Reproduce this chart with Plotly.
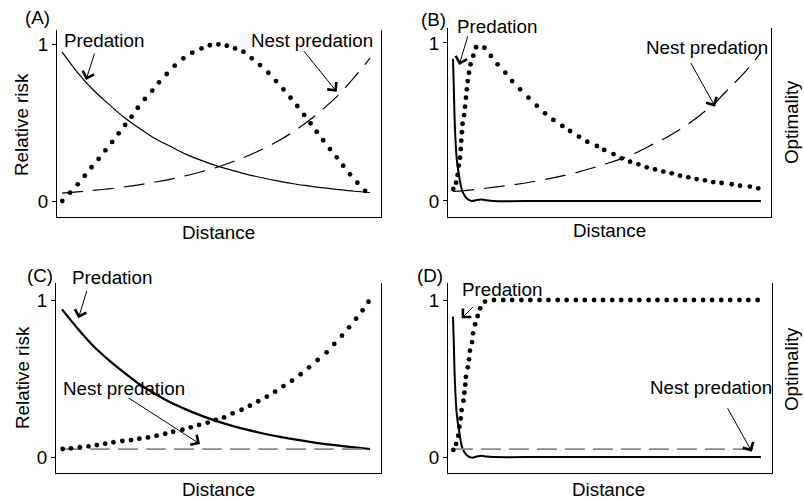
import plotly.graph_objects as go

W, H = 804, 501
FONT = "Liberation Sans, Arial, sans-serif"
FS = 18.8

# ---------------- data ----------------
tick_vals = [0, 1]
tick_text = ["0", "1"]

# Panel A
a_x = [0.0, 0.05, 0.1, 0.15, 0.2, 0.25, 0.3, 0.35, 0.4, 0.45, 0.5,
       0.55, 0.6, 0.65, 0.7, 0.75, 0.8, 0.85, 0.9, 0.95, 1.0]
a_predation = [0.95, 0.82, 0.71, 0.62, 0.535, 0.465, 0.40, 0.35, 0.30, 0.26, 0.225,
               0.197, 0.17, 0.148, 0.128, 0.11, 0.096, 0.083, 0.072, 0.062, 0.054]
a_nest = [0.05, 0.058, 0.067, 0.077, 0.089, 0.103, 0.12, 0.138, 0.16, 0.185, 0.213,
          0.247, 0.285, 0.33, 0.38, 0.44, 0.51, 0.59, 0.68, 0.79, 0.91]
a_opt_x = [0.001, 0.026, 0.051, 0.074, 0.096, 0.119, 0.141, 0.163, 0.184, 0.205, 0.226,
           0.246, 0.269, 0.293, 0.315, 0.340, 0.366, 0.394, 0.423, 0.453, 0.480, 0.508,
           0.535, 0.562, 0.589, 0.616, 0.643, 0.670, 0.695, 0.719, 0.742, 0.764, 0.786,
           0.807, 0.827, 0.848, 0.870, 0.892, 0.913, 0.935, 0.959, 0.984]
a_opt_y = [0.0, 0.053, 0.106, 0.161, 0.215, 0.268, 0.323, 0.376, 0.431, 0.484, 0.537,
           0.594, 0.650, 0.703, 0.756, 0.809, 0.862, 0.909, 0.945, 0.972, 0.992, 0.998,
           0.989, 0.972, 0.951, 0.909, 0.866, 0.817, 0.764, 0.711, 0.658, 0.605, 0.548,
           0.495, 0.441, 0.387, 0.331, 0.278, 0.225, 0.170, 0.117, 0.064]

# Panel B
b_pred_x = [0.0, 0.003, 0.006, 0.012, 0.021, 0.031, 0.044, 0.061, 0.077, 0.093, 0.109,
            0.13, 0.3, 0.5, 0.7, 1.0]
b_pred_y = [0.90, 0.69, 0.48, 0.27, 0.144, 0.059, 0.017, 0.0, 0.006, 0.009, 0.005,
            0.0, 0.0, 0.0, 0.0, 0.0]
b_nest_x = [0.0, 0.1, 0.2, 0.3, 0.4, 0.5, 0.55, 0.6, 0.65, 0.7, 0.75, 0.8, 0.85, 0.9, 0.95, 1.0]
b_nest_y = [0.06, 0.079, 0.104, 0.137, 0.18, 0.237, 0.27, 0.31, 0.36, 0.41, 0.47,
            0.54, 0.62, 0.72, 0.82, 0.94]
b_opt_x = [0.001, 0.010, 0.015, 0.019, 0.023, 0.025, 0.027, 0.029, 0.031, 0.036, 0.039,
           0.042, 0.045, 0.048, 0.052, 0.057, 0.066, 0.075, 0.102, 0.123, 0.145, 0.170,
           0.192, 0.218, 0.245, 0.272, 0.299, 0.326, 0.355, 0.380, 0.409, 0.436, 0.467,
           0.491, 0.521, 0.548, 0.575, 0.602, 0.629, 0.656, 0.683, 0.710, 0.737, 0.764,
           0.791, 0.818, 0.845, 0.872, 0.905, 0.932, 0.964, 0.991]
b_opt_y = [0.076, 0.116, 0.165, 0.224, 0.274, 0.329, 0.382, 0.435, 0.489, 0.544, 0.597,
           0.654, 0.707, 0.759, 0.812, 0.865, 0.920, 0.973, 0.970, 0.918, 0.865, 0.812,
           0.759, 0.707, 0.654, 0.603, 0.555, 0.513, 0.475, 0.443, 0.407, 0.375, 0.348,
           0.323, 0.297, 0.270, 0.249, 0.232, 0.213, 0.200, 0.186, 0.175, 0.160, 0.150,
           0.139, 0.131, 0.120, 0.114, 0.106, 0.097, 0.091, 0.080]

# Panel C
c_x = a_x
c_predation = [0.94, 0.82, 0.71, 0.62, 0.54, 0.465, 0.405, 0.35, 0.305, 0.265, 0.23,
               0.2, 0.174, 0.151, 0.131, 0.114, 0.098, 0.084, 0.072, 0.061, 0.051]
c_nest_x = [0.0, 1.0]
c_nest_y = [0.05, 0.05]
c_opt_x = [0.002, 0.029, 0.058, 0.086, 0.113, 0.140, 0.167, 0.196, 0.224, 0.251, 0.279,
           0.307, 0.335, 0.361, 0.391, 0.418, 0.445, 0.473, 0.499, 0.526, 0.554, 0.583,
           0.610, 0.637, 0.665, 0.692, 0.719, 0.747, 0.775, 0.802, 0.830, 0.859, 0.884,
           0.909, 0.932, 0.955, 0.976, 0.995]
c_opt_y = [0.051, 0.055, 0.062, 0.068, 0.076, 0.085, 0.094, 0.102, 0.108, 0.117, 0.125,
           0.136, 0.148, 0.161, 0.174, 0.189, 0.204, 0.219, 0.236, 0.252, 0.278, 0.301,
           0.327, 0.355, 0.384, 0.416, 0.452, 0.486, 0.527, 0.571, 0.618, 0.667, 0.720,
           0.773, 0.826, 0.881, 0.934, 0.989]

# Panel D
d_pred_x = [0.0, 0.003, 0.006, 0.012, 0.021, 0.031, 0.044, 0.061, 0.077, 0.093, 0.109,
            0.13, 0.3, 0.5, 0.7, 1.0]
d_pred_y = [0.894, 0.70, 0.49, 0.278, 0.151, 0.055, 0.013, -0.004, 0.003, 0.008, 0.003,
            0.0, 0.0, 0.0, 0.0, 0.0]
d_nest_x = [0.0, 1.0]
d_nest_y = [0.05, 0.05]
d_opt_x = [0.001, 0.010, 0.017, 0.021, 0.025, 0.028, 0.034, 0.037, 0.040, 0.042, 0.048,
           0.052, 0.055, 0.062, 0.065, 0.072, 0.080, 0.088, 0.104, 0.133, 0.163, 0.192,
           0.222, 0.251, 0.281, 0.310, 0.340, 0.369, 0.399, 0.428, 0.458, 0.487, 0.517,
           0.546, 0.576, 0.605, 0.635, 0.664, 0.694, 0.723, 0.753, 0.782, 0.812, 0.841,
           0.871, 0.900, 0.930, 0.959, 0.989]
d_opt_y = [0.045, 0.083, 0.136, 0.193, 0.246, 0.299, 0.359, 0.410, 0.461, 0.511, 0.571,
           0.622, 0.677, 0.732, 0.788, 0.845, 0.898, 0.947, 0.99, 1.0, 1.0, 1.0,
           1.0, 1.0, 1.0, 1.0, 1.0, 1.0, 1.0, 1.0, 1.0, 1.0, 1.0,
           1.0, 1.0, 1.0, 1.0, 1.0, 1.0, 1.0, 1.0, 1.0, 1.0, 1.0,
           1.0, 1.0, 1.0, 1.0, 1.0]

# ---------------- layout helpers ----------------
def dom_x(x0, x1):
    return [x0 / W, x1 / W]

def dom_y(top, bottom):
    return [1 - bottom / H, 1 - top / H]

def px(X, Y):
    return X / W, 1 - Y / H

fig = go.Figure()

def add_line(x, y, xa, ya, width, dash="solid", color="black", shape="spline"):
    fig.add_trace(go.Scatter(x=x, y=y, mode="lines", xaxis=xa, yaxis=ya,
                             line=dict(color=color, width=width, dash=dash, shape=shape),
                             hoverinfo="skip", showlegend=False))

def add_dots(x, y, xa, ya):
    fig.add_trace(go.Scatter(x=x, y=y, mode="markers", xaxis=xa, yaxis=ya,
                             marker=dict(color="black", size=4.8, line=dict(width=0)),
                             hoverinfo="skip", showlegend=False))

# Panel A
add_line(a_x, a_predation, "x", "y", 1.2)
add_line(a_x, a_nest, "x", "y", 1.2, dash="21px,10px")
add_dots(a_opt_x, a_opt_y, "x", "y")
# Panel B
add_line(b_pred_x, b_pred_y, "x2", "y2", 2.0)
add_line(b_nest_x, b_nest_y, "x2", "y2", 1.2, dash="21px,10px")
add_dots(b_opt_x, b_opt_y, "x2", "y2")
# Panel C
add_line(c_x, c_predation, "x3", "y3", 2.2)
add_line(c_nest_x, c_nest_y, "x3", "y3", 1.8, dash="20px,8px", color="#8a8a8a", shape="linear")
add_dots(c_opt_x, c_opt_y, "x3", "y3")
# Panel D
add_line(d_pred_x, d_pred_y, "x4", "y4", 2.0)
add_line(d_nest_x, d_nest_y, "x4", "y4", 1.8, dash="20px,8px", color="#8a8a8a", shape="linear")
add_dots(d_opt_x, d_opt_y, "x4", "y4")

panels = [
    # (x-axis name, y-axis name, px left, px right, px top, px bottom, xrange, yrange)
    ("xaxis", "yaxis", 57, 381, 30, 217, [-0.0162, 1.0357], [-0.1019, 1.0892]),
    ("xaxis2", "yaxis2", 448, 771, 28, 217, [-0.0162, 1.0325], [-0.1013, 1.0949]),
    ("xaxis3", "yaxis3", 56, 381, 283, 473, [-0.0195, 1.0357], [-0.1019, 1.1083]),
    ("xaxis4", "yaxis4", 448, 772, 283, 473, [-0.0162, 1.0357], [-0.1019, 1.1083]),
]
layout_axes = {}
for i, (xn, yn, l, r, t, b, xr, yr) in enumerate(panels):
    suffix = "" if i == 0 else str(i + 1)
    layout_axes[xn] = dict(domain=dom_x(l, r), range=xr, anchor="y" + suffix,
                           showline=True, linecolor="black", linewidth=1.3, mirror=False,
                           showgrid=False, zeroline=False, showticklabels=False, ticks="",
                           fixedrange=True)
    layout_axes[yn] = dict(domain=dom_y(t, b), range=yr, anchor="x" + suffix,
                           showline=True, linecolor="black", linewidth=1.3, mirror=True,
                           showgrid=False, zeroline=False, tickvals=tick_vals,
                           ticktext=tick_text, ticks="outside", ticklen=4, tickwidth=1.2,
                           tickcolor="black", tickfont=dict(size=FS, color="black", family=FONT),
                           fixedrange=True)

annotations = []

def text(s, X, Y, angle=0):
    x, y = px(X, Y)
    annotations.append(dict(text=s, x=x, y=y, xref="paper", yref="paper", showarrow=False,
                            xanchor="center", yanchor="middle", textangle=angle,
                            font=dict(size=FS, color="black", family=FONT)))

def arrow(xa, ya, x, y, ax, ay):
    annotations.append(dict(text="", x=x, y=y, xref=xa, yref=ya, ax=ax, ay=ay,
                            showarrow=True, arrowhead=4, arrowsize=2.3, arrowwidth=1,
                            arrowcolor="black", standoff=0, startstandoff=0))

# panel letters
text("(A)", 37, 18)
text("(B)", 433, 19)
text("(C)", 40, 275)
text("(D)", 430, 275)
# axis titles
for X, Y in [(218, 232), (609, 231), (218, 489), (608, 489)]:
    text("Distance", X, Y)
text("Relative risk", 22, 125, -90)
text("Relative risk", 22, 378, -90)
text("Optimality", 791, 122, -90)
text("Optimality", 791, 369, -90)
# curve labels
text("Predation", 104, 41)
text("Nest predation", 312, 40)
text("Predation", 497, 26)
text("Nest predation", 707, 48)
text("Predation", 112, 277)
text("Nest predation", 124, 388)
text("Predation", 502, 289)
text("Nest predation", 711, 387)
# arrows
arrow("x", "y", 0.078, 0.771, 9, -28)
arrow("x", "y", 0.892, 0.696, -34, -42)
arrow("x2", "y2", 0.020, 0.861, 9, -30)
arrow("x2", "y2", 0.851, 0.597, -25, -45)
arrow("x3", "y3", 0.053, 0.883, 9, -29)
arrow("x3", "y3", 0.448, 0.083, -73, -47)
arrow("x4", "y4", 0.028, 0.883, 13, -13)
arrow("x4", "y4", 0.970, 0.034, -25, -45)

fig.update_layout(width=W, height=H, autosize=False,
                  margin=dict(l=0, r=0, t=0, b=0, pad=0),
                  paper_bgcolor="white", plot_bgcolor="white",
                  font=dict(family=FONT, size=FS, color="black"),
                  showlegend=False, annotations=annotations, **layout_axes)

fig.write_html("out.html", config={"displayModeBar": False},
               post_script="document.body.style.margin='0';document.body.style.overflow='hidden';")
